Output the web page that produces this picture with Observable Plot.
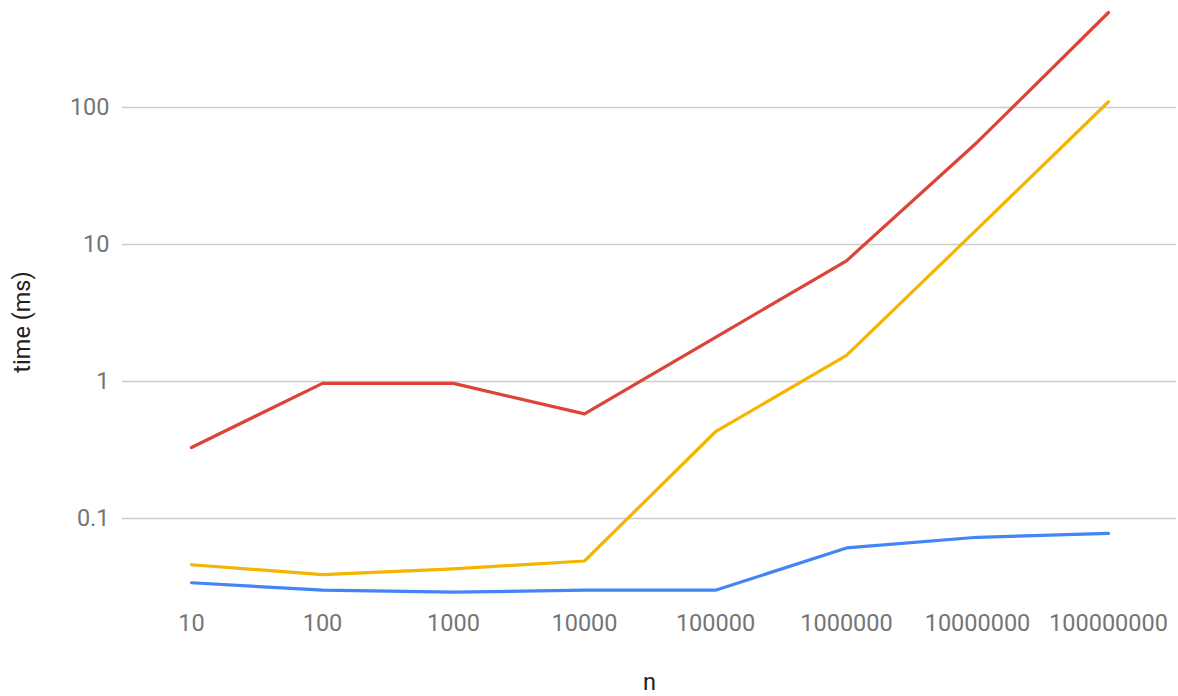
<!DOCTYPE html>
<html><head><meta charset="utf-8">
<script src="https://cdn.jsdelivr.net/npm/d3@7"></script>
<script src="https://cdn.jsdelivr.net/npm/@observablehq/plot@0.6"></script>
<style>body{margin:0;background:#fff;font-family:Roboto,sans-serif}</style>
</head><body><div id="chart"></div>
<script>
const nLabels = ["10","100","1000","10000","100000","1000000","10000000","100000000"];
const seriesNames = ["Series 1","Series 2","Series 3"];
const seriesColors = ["#db4437","#f4b400","#4285f4"];
const redTimes = [0.33,0.97,0.97,0.58,2.1,7.6,56,493];
const yellowTimes = [0.046,0.039,0.043,0.049,0.43,1.55,13,110];
const blueTimes = [0.034,0.030,0.029,0.030,0.030,0.061,0.073,0.078];
const yTicks = [0.1,1,10,100];
const xTitle = "n";
const yTitle = "time (ms)";

const allSeries = [redTimes, yellowTimes, blueTimes];
const data = [];
allSeries.forEach((vals, s) => vals.forEach((t, i) => data.push({series: seriesNames[s], n: nLabels[i], t})));

const chart = Plot.plot({
  width: 1178, height: 696,
  marginTop: 12, marginBottom: 91, marginLeft: 122, marginRight: 2,
  style: {fontFamily: "Roboto, sans-serif", fontSize: "23.5px", color: "#757575", background: "#fff"},
  x: {type: "point", domain: nLabels, padding: 0.5, label: null},
  y: {type: "log", domain: [0.0232, 493], label: null},
  color: {domain: seriesNames, range: seriesColors},
  marks: [
    Plot.gridY(yTicks, {stroke: "#cccccc", strokeOpacity: 1, strokeWidth: 1.6}),
    Plot.axisY(yTicks, {tickSize: 0, tickPadding: 13, tickFormat: d => String(d), label: null, fontSize: 23.5}),
    Plot.axisX({tickSize: 0, tickPadding: 9, label: null, fontSize: 23.5}),
    Plot.text([yTitle], {text: d => d, frameAnchor: "left", textAnchor: "middle", lineAnchor: "middle", rotate: -90, dx: -100, dy: 13, fill: "#222", fontSize: 23.5}),
    Plot.text([xTitle], {text: d => d, frameAnchor: "bottom", textAnchor: "middle", lineAnchor: "middle", dy: 77, fill: "#222", fontSize: 23.5}),
    Plot.lineY(data, {x: "n", y: "t", stroke: "series", strokeWidth: 3.2})
  ]
});
document.getElementById("chart").appendChild(chart);
</script></body></html>
